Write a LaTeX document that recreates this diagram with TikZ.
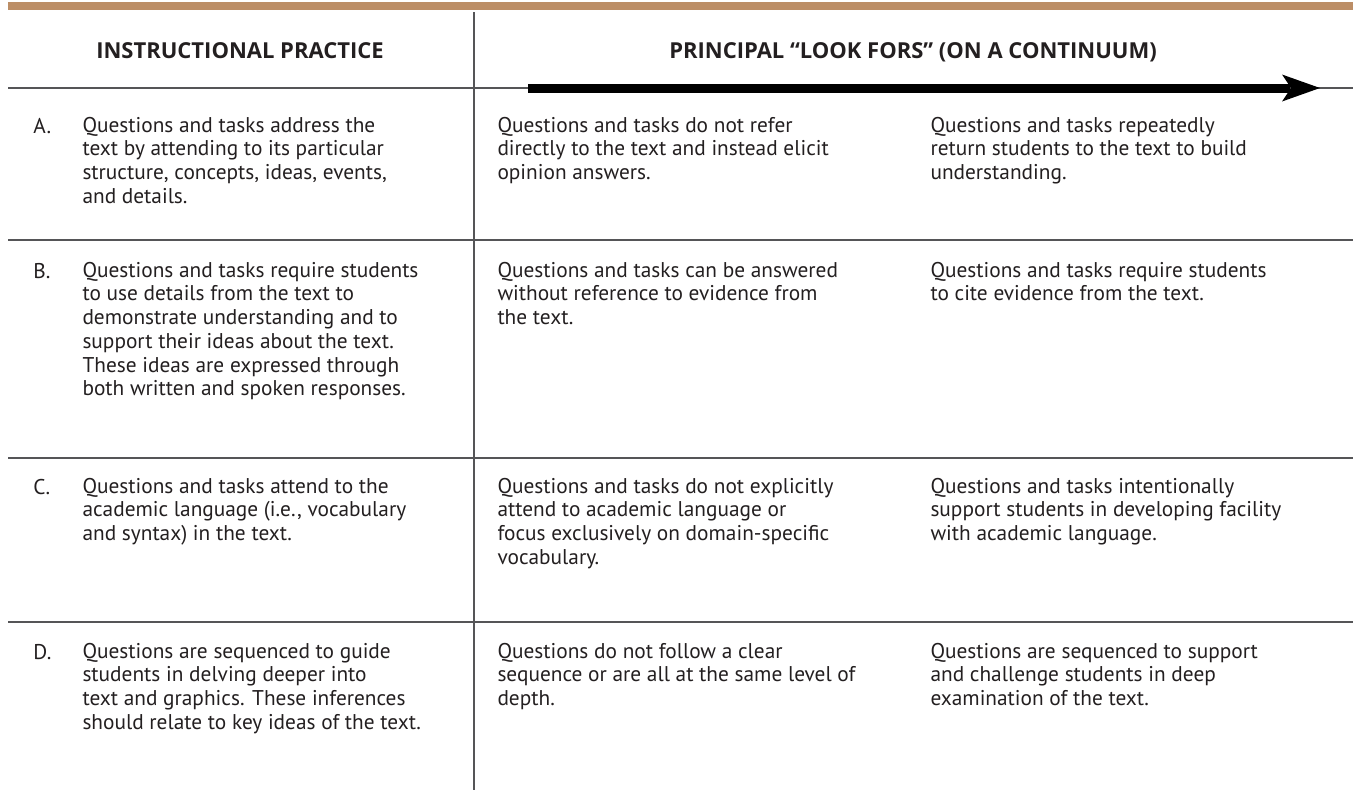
\documentclass[tikz,border=0pt]{standalone}
\usepackage{fontspec}
\setmainfont{PT Sans}
\newfontfamily\headfont{Open Sans}
\definecolor{barbrown}{RGB}{188,142,102}
\definecolor{rulegray}{RGB}{85,85,87}
\definecolor{inkblack}{RGB}{35,31,32}
\tikzset{every picture/.style={line width=0.75pt}}
\tikzset{
  rulethin/.style={draw=rulegray, line width=1.5},
  cell/.style={anchor=north west, align=left, inner sep=0pt, text=inkblack,
    font=\fontsize{16}{17.8}\selectfont, execute at begin node={\strut}},
  headtext/.style={anchor=base, inner sep=0pt, text=inkblack,
    font=\headfont\fontsize{16.5}{18}\selectfont\bfseries},
}

\begin{document}
\begin{tikzpicture}[x=0.75pt,y=0.75pt,yscale=-1,xscale=1]
	\useasboundingbox (0,0) rectangle (1353,790);

	%Shape: Rectangle [id:top bar]
	\fill [barbrown] (8,2) rectangle (1353,9.5) ;
	%Straight Lines [id:column divider]
	\draw [rulethin]   (474,12) -- (474,790) ;
	%Straight Lines [id:header rule]
	\draw [rulethin]   (8,88) -- (1353,88) ;
	%Straight Lines [id:row rules]
	\foreach \ry in {240,458,622}
		\draw [rulethin]   (8,\ry) -- (1353,\ry) ;
	%Straight Lines [id:continuum arrow]
	\coordinate (cstart) at (528,88) ;
	\coordinate (cend) at (1290,88) ;
	\draw [line width=6.75]   (cstart) -- (cend) ;
	\fill [shift={(1320,88)}, rotate = 0] (0,0) -- (-38,-13.5) -- (-29,0) -- (-38,13.5) -- cycle ;

	% Text Node
	\node [headtext] (hpractice) at (240,58) {INSTRUCTIONAL PRACTICE};
	% Text Node
	\node [headtext] (hlookfors) at (913,58) {PRINCIPAL “LOOK FORS” (ON A CONTINUUM)};

	% Text Node
	\node [cell] (la) at (33,116.5) {A.};
	\node [cell] (pa) at (82,116.5) {Questions and tasks address the\\text by attending to its particular\\structure, concepts, ideas, events,\\and details.};
	\node [cell] (wa) at (497,116.5) {Questions and tasks do not refer\\directly to the text and instead elicit\\opinion answers.};
	\node [cell] (sa) at (930,116.5) {Questions and tasks repeatedly\\return students to the text to build\\understanding.};

	% Text Node
	\node [cell] (lb) at (33,261.5) {B.};
	\node [cell] (pb) at (82,261.5) {Questions and tasks require students\\to use details from the text to\\demonstrate understanding and to\\support their ideas about the text.\\These ideas are expressed through\\both written and spoken responses.};
	\node [cell] (wb) at (497,261.5) {Questions and tasks can be answered\\without reference to evidence from\\the text.};
	\node [cell] (sb) at (930,261.5) {Questions and tasks require students\\to cite evidence from the text.};

	% Text Node
	\node [cell] (lc) at (33,477.5) {C.};
	\node [cell] (pc) at (82,477.5) {Questions and tasks attend to the\\academic language (i.e., vocabulary\\and syntax) in the text.};
	\node [cell] (wc) at (497,477.5) {Questions and tasks do not explicitly\\attend to academic language or\\focus exclusively on domain-specific\\vocabulary.};
	\node [cell] (sc) at (930,477.5) {Questions and tasks intentionally\\support students in developing facility\\with academic language.};

	% Text Node
	\node [cell] (ld) at (33,642.5) {D.};
	\node [cell] (pd) at (82,642.5) {Questions are sequenced to guide\\students in delving deeper into\\text and graphics. These inferences\\should relate to key ideas of the text.};
	\node [cell] (wd) at (497,642.5) {Questions do not follow a clear\\sequence or are all at the same level of\\depth.};
	\node [cell] (sd) at (930,642.5) {Questions are sequenced to support\\and challenge students in deep\\examination of the text.};

\end{tikzpicture}
\end{document}
